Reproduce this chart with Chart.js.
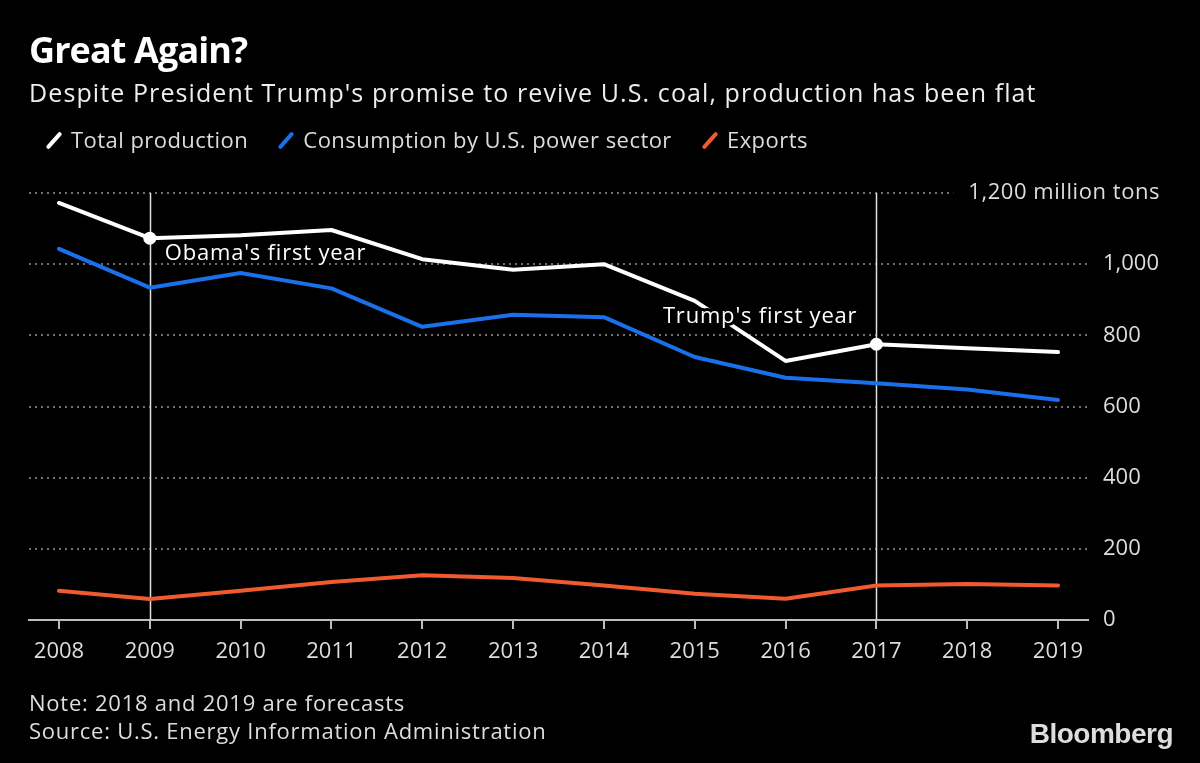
<!DOCTYPE html>
<html>
<head>
<meta charset="utf-8">
<script src="https://cdn.jsdelivr.net/npm/chart.js@4/dist/chart.umd.min.js"></script>
<style>
  html, body { margin: 0; padding: 0; background: #000; }
  body { width: 1200px; height: 763px; position: relative; overflow: hidden; font-family: "Open Sans", sans-serif; color: #e6e6e6; }
  #wrap { position: absolute; left: 0; top: 0; width: 1200px; height: 763px; }
  .txt { position: absolute; white-space: nowrap; }
  #title { left: 29px; top: 25px; font-size: 36px; font-weight: 700; color: #fff; letter-spacing: -0.9px; }
  #sub { left: 29px; top: 75px; font-size: 25px; color: #eee; letter-spacing: 1.1px; }
  #legend { left: 44px; top: 124px; font-size: 22px; color: #ddd; letter-spacing: 0.45px; }
  #legend .item { display: inline-block; margin-right: 22px; }
  #legend .mk { display: inline-block; width: 4px; height: 21px; border-radius: 2px; transform: rotate(42deg); margin: 0 15px -3px 8px; }
  #note { left: 29px; top: 688px; font-size: 22px; color: #ddd; line-height: 28px; letter-spacing: 0.75px; }
  #logo { right: 27px; top: 718px; font-family: "Liberation Sans", sans-serif; font-weight: 700; font-size: 28px; color: #ddd; letter-spacing: -0.5px; }
</style>
</head>
<body>
<div id="wrap"><canvas id="chart"></canvas></div>
<div class="txt" id="title">Great Again?</div>
<div class="txt" id="sub">Despite President Trump's promise to revive U.S. coal, production has been flat</div>
<div class="txt" id="legend">
  <span class="item"><span class="mk" style="background:#ffffff"></span>Total production</span>
  <span class="item"><span class="mk" style="background:#1a70e8"></span>Consumption by U.S. power sector</span>
  <span class="item"><span class="mk" style="background:#ef5b2e"></span>Exports</span>
</div>
<div class="txt" id="note">Note: 2018 and 2019 are forecasts<br>Source: U.S. Energy Information Administration</div>
<div class="txt" id="logo">Bloomberg</div>
<script>
// 数据
const years = [2008, 2009, 2010, 2011, 2012, 2013, 2014, 2015, 2016, 2017, 2018, 2019];
const production = [1172, 1073, 1081, 1096, 1014, 984, 1000, 897, 728, 775, 764, 753];
const consumption = [1043, 934, 975, 932, 824, 858, 851, 739, 681, 665, 648, 618];
const exports = [82, 59, 82, 107, 126, 118, 97, 74, 60, 97, 101, 97];
const yTicks = [0, 200, 400, 600, 800, 1000, 1200];
const markYears = [2009, 2017];
const markLabels = ["Obama's first year", "Trump's first year"];

function toPoints(arr) {
  return arr.map(function (v, i) { return { x: years[i], y: v }; });
}

const FONT = '"Open Sans", sans-serif';

// 竖线、注释文字、单位
const annotate = {
  id: "annotate",
  beforeDatasetsDraw: function (chart) {
    const ctx = chart.ctx;
    const x = chart.scales.x, y = chart.scales.y;
    ctx.save();
    ctx.strokeStyle = "#e0e0e0";
    ctx.lineWidth = 1.5;
    markYears.forEach(function (yr) {
      const px = Math.round(x.getPixelForValue(yr)) + 0.5;
      ctx.beginPath();
      ctx.moveTo(px, y.getPixelForValue(1200));
      ctx.lineTo(px, y.getPixelForValue(0));
      ctx.stroke();
    });
    ctx.restore();
  },
  afterDraw: function (chart) {
    const ctx = chart.ctx;
    const x = chart.scales.x, y = chart.scales.y;
    ctx.save();
    ctx.font = "22px " + FONT;
    ctx.letterSpacing = "0.8px";
    ctx.textBaseline = "middle";
    ctx.lineJoin = "round";

    // Obama
    let i = years.indexOf(markYears[0]);
    let px = x.getPixelForValue(markYears[0]);
    let py = y.getPixelForValue(production[i]);
    ctx.textAlign = "left";
    ctx.strokeStyle = "#000";
    ctx.lineWidth = 6;
    ctx.strokeText(markLabels[0], px + 15, py + 16);
    ctx.fillStyle = "#fff";
    ctx.fillText(markLabels[0], px + 15, py + 16);

    // Trump
    i = years.indexOf(markYears[1]);
    px = x.getPixelForValue(markYears[1]);
    py = y.getPixelForValue(production[i]);
    ctx.textAlign = "right";
    ctx.strokeText(markLabels[1], px - 19, py - 27);
    ctx.fillText(markLabels[1], px - 19, py - 27);

    // 单位
    ctx.letterSpacing = "0.55px";
    const ty = y.getPixelForValue(1200);
    const unit = "1,200 million tons";
    const w = ctx.measureText(unit).width;
    ctx.fillStyle = "#000";
    ctx.fillRect(1160 - w - 15, ty - 3, chart.chartArea.right - (1160 - w - 15) + 4, 6);
    ctx.fillStyle = "#ddd";
    ctx.fillText(unit, 1160, ty);
    ctx.restore();
  }
};

new Chart(document.getElementById("chart").getContext("2d"), {
  type: "line",
  data: {
    datasets: [
      {
        label: "Total production",
        data: toPoints(production),
        borderColor: "#ffffff",
        backgroundColor: "#ffffff",
        borderWidth: 4,
        pointRadius: years.map(function (yr) { return markYears.indexOf(yr) >= 0 ? 6.5 : 0; }),
        pointBorderWidth: 0,
        tension: 0
      },
      {
        label: "Consumption by U.S. power sector",
        data: toPoints(consumption),
        borderColor: "#1a70e8",
        borderWidth: 4,
        pointRadius: 0,
        tension: 0
      },
      {
        label: "Exports",
        data: toPoints(exports),
        borderColor: "#ef5b2e",
        borderWidth: 4,
        pointRadius: 0,
        tension: 0
      }
    ]
  },
  options: {
    responsive: true,
    maintainAspectRatio: false,
    animation: false,
    layout: { padding: { left: 29, top: 193, right: 0, bottom: 93 } },
    plugins: { legend: { display: false }, tooltip: { enabled: false } },
    elements: { line: { borderCapStyle: "round", borderJoinStyle: "round" } },
    scales: {
      x: {
        type: "linear",
        min: 2008 - 0.33,
        max: 2019 + 0.33,
        afterBuildTicks: function (s) { s.ticks = years.map(function (v) { return { value: v }; }); },
        afterFit: function (s) { s.height = 50; },
        grid: { drawOnChartArea: false, drawTicks: true, tickLength: 9, color: "#bdbdbd", lineWidth: 2 },
        border: { display: true, color: "#bdbdbd", width: 2 },
        ticks: {
          padding: 10,
          maxRotation: 0,
          autoSkip: false,
          color: "#ddd",
          font: { size: 22, family: FONT },
          callback: function (v) { return String(v); }
        }
      },
      y: {
        position: "right",
        min: 0,
        max: 1200,
        afterBuildTicks: function (s) { s.ticks = yTicks.map(function (v) { return { value: v }; }); },
        afterFit: function (s) { s.width = 112; },
        grid: {
          drawTicks: false,
          lineWidth: 2,
          color: function (c) { return c.tick && c.tick.value === 0 ? "rgba(0,0,0,0)" : "#6e6e6e"; }
        },
        border: { display: false, dash: [2, 4] },
        ticks: {
          padding: 15,
          color: "#ddd",
          font: { size: 22, family: FONT },
          callback: function (v) { return v === 1200 ? "" : v.toLocaleString("en-US"); }
        }
      }
    }
  },
  plugins: [annotate]
});
</script>
</body>
</html>
